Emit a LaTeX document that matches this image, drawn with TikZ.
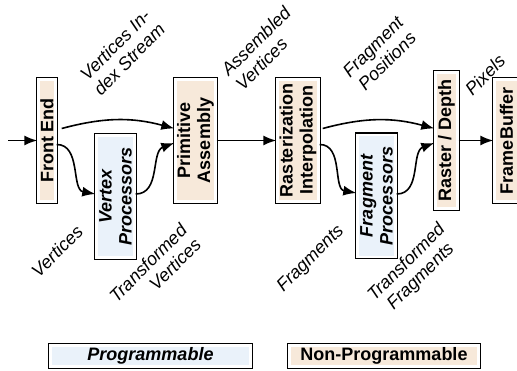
\documentclass[tikz,border=0pt]{standalone}
\usepackage{fontspec}
\setmainfont{Liberation Sans}
\usepackage{xcolor}
\usetikzlibrary{arrows.meta}
\definecolor{fixedfill}{HTML}{F7E9DA}
\definecolor{progfill}{HTML}{EAF2FA}

\begin{document}
\begin{tikzpicture}[x=1pt,y=-1pt,
	box/.style={fill=#1, draw=white, line width=2.4pt, preaction={draw=black, line width=5pt}, inner sep=0pt, align=center, text=black},
	stage/.style={box=fixedfill, rotate=90, font=\fontsize{18}{20}\selectfont\bfseries},
	shader/.style={box=progfill, rotate=90, font=\fontsize{18}{20}\selectfont\bfseries\itshape},
	lbl/.style={rotate=45, align=center, font=\fontsize{18}{20}\selectfont\itshape},
	flow/.style={-{Latex[length=13pt,width=10pt]}, line width=1.6pt}]
		\useasboundingbox (0,0) rectangle (517,371);
		\node[stage, minimum width=122pt, minimum height=17pt] (fe) at (47,140.5) {Front End};
		\node[shader, minimum width=122pt, minimum height=38pt] (vp) at (115.5,196.5) {Vertex\\Processors};
		\node[stage, minimum width=122pt, minimum height=40pt] (pa) at (195.5,140.5) {Primitive\\Assembly};
		\node[stage, minimum width=122pt, minimum height=41pt] (ri) at (298,140.5) {Rasterization\\Interpolation};
		\node[shader, minimum width=122pt, minimum height=38pt] (fp) at (376.5,196) {Fragment\\Processors};
		\node[stage, minimum width=136pt, minimum height=22pt] (rd) at (446.5,140.5) {Raster / Depth};
		\node[stage, minimum width=122pt, minimum height=24pt] (fb) at (506.5,140.5) {FrameBuffer};
		\coordinate (in) at (8,140.5);
		\draw[flow] (in) -- (fe.north);
		\draw[flow] ([xshift=5pt,yshift=12pt]fe.south) to[bend left=15] ([yshift=12pt]pa.north);
		\draw[flow] ([yshift=-4pt]fe.south) to[out=0,in=170] ([yshift=2.5pt]vp.north);
		\draw[flow] ([yshift=2.5pt]vp.south) to[out=0,in=200] ([yshift=-2.5pt]pa.north);
		\draw[flow] (pa.south) -- (ri.north);
		\draw[flow] ([xshift=3pt,yshift=12pt]ri.south) to[bend left=15] ([yshift=12pt]rd.north);
		\draw[flow] ([yshift=-4pt]ri.south) to[out=0,in=170] ([yshift=3pt]fp.north);
		\draw[flow] ([yshift=2pt]fp.south) to[out=0,in=200] ([yshift=-2.5pt]rd.north);
		\draw[flow] (rd.south) -- (fb.north);
		\node[lbl] (idx) at (122,52) {Vertices In-\\dex Stream};
		\node[lbl, align=left] (asm) at (263,48) {Assembled\\Vertices};
		\node[lbl] (pos) at (380,54) {Fragment\\Positions};
		\node[lbl] (pix) at (485,75) {Pixels};
		\node[lbl] (vtx) at (57,251) {Vertices};
		\node[lbl, align=right] (tvtx) at (155,270) {Transformed\\Vertices};
		\node[lbl] (frag) at (311,259) {Fragments};
		\node[lbl] (tfrag) at (414,270) {Transformed\\Fragments};
		\node[box=progfill, minimum width=200pt, minimum height=21pt, font=\fontsize{18}{20}\selectfont\bfseries\itshape] (prog) at (150.5,356) {Programmable};
		\node[box=fixedfill, minimum width=189pt, minimum height=21pt, font=\fontsize{18}{20}\selectfont\bfseries] (fixed) at (384,356) {Non-Programmable};
\end{tikzpicture}
\end{document}
